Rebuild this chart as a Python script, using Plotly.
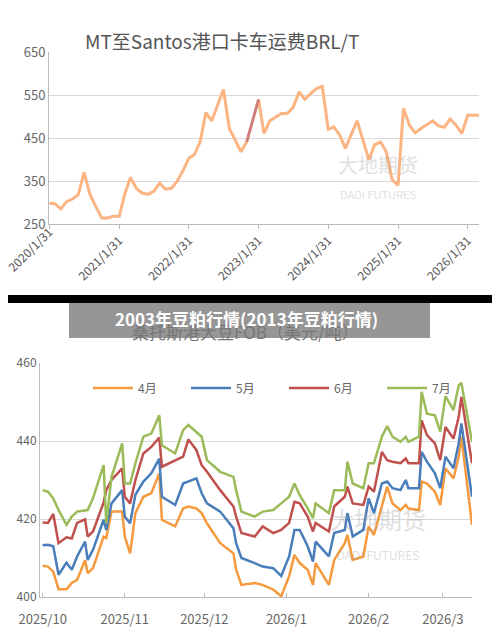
import pandas as pd
import plotly.graph_objects as go

# top chart: monthly truck freight MT -> Santos (BRL/T)
freight_months = pd.date_range("2020-01-31", periods=75, freq="ME")
freight = [298, 297, 285, 302, 308, 318, 370, 318, 291, 264, 264, 268,
           268, 318, 358, 333, 322, 319, 326, 345, 331, 333, 349, 374,
           403, 411, 441, 509, 490, 526, 563, 472, 445, 418, 441, None,
           540, 461, 490, 499, 507, 507, 521, 557, 540, 553, 565, 570,
           470, 476, 457, 426, 457, 490, 445, 399, 434, 441, 418, 353,
           340, 519, 480, 462, 472, 480, 490, 478, 475, 494, 480, 461,
           503, 503, 503]
gap_dates = ["2022-11-30", "2023-01-31"]
gap_vals = [441, 540]
top_ticks = [f"{y}-01-31" for y in range(2020, 2027)]
top_ticktext = [f"{y}/1/31" for y in range(2020, 2027)]

# bottom chart: Santos soybean FOB by delivery month (USD/t)
fob_days = [0, 2, 4, 6, 9, 11, 13, 16, 17, 19, 23, 24, 26, 30,
            31, 33, 35, 38, 41, 44, 45, 50, 53, 55, 58, 60, 62,
            67, 72, 73, 75, 80, 83, 87, 90, 93, 95, 97, 100, 102, 103,
            108, 110, 114, 115, 117, 121, 123, 125, 128, 130, 132, 135,
            137, 138, 142, 143, 145, 148, 150, 152, 155, 157, 158, 162]
fob_dates = [pd.Timestamp("2025-10-01") + pd.Timedelta(days=d) for d in fob_days]
apr = [408.0, 407.8, 406.5, 402.0, 402.0, 403.6, 404.4, 409.4, 406.1, 407.4, 415.5, 415.1, 421.9, 421.9,
       415.5, 411.2, 421.5, 425.7, 426.6, 431.7, 419.8, 418.1, 422.7, 423.2, 422.7, 421.5, 418.9,
       413.8, 411.2, 407.0, 403.1, 403.6, 403.1, 401.9, 400.2, 405.3, 410.8, 408.7, 407.0, 403.1, 408.7,
       403.1, 409.5, 413.8, 415.9, 409.5, 410.4, 418.1, 415.9, 423.2, 428.3, 424.0, 422.3,
       423.6, 422.7, 422.3, 429.6, 429.1, 427.0, 423.6, 433.0, 430.4, 436.0, 441.1, 418.5]
may = [413.3, 413.4, 413.0, 405.7, 408.8, 407.0, 410.4, 414.2, 409.5, 412.1, 419.8, 417.2, 424.0, 427.4,
       420.6, 418.9, 426.2, 429.6, 431.7, 435.5, 425.7, 423.6, 429.1, 429.6, 430.4, 426.6, 424.0,
       421.9, 417.6, 413.8, 410.0, 408.7, 407.8, 407.4, 405.4, 410.4, 417.2, 417.2, 413.0, 409.1, 414.2,
       410.4, 416.4, 417.2, 421.5, 415.5, 417.2, 425.3, 421.5, 429.1, 429.6, 427.9, 427.4,
       430.0, 427.9, 427.9, 437.2, 434.7, 431.7, 427.9, 436.0, 433.0, 439.4, 444.5, 425.7]
jun = [419.1, 419.0, 421.3, 413.8, 415.3, 415.0, 419.0, 419.9, 415.5, 416.8, 424.2, 427.4, 430.0, 433.0,
       425.7, 424.0, 430.0, 436.8, 438.5, 440.9, 433.4, 435.1, 436.0, 440.4, 437.7, 433.8, 432.1,
       427.4, 423.2, 420.6, 416.4, 415.5, 418.1, 416.4, 417.2, 419.0, 424.4, 424.0, 420.6, 416.8, 419.0,
       416.8, 423.2, 425.7, 428.3, 424.0, 423.6, 428.3, 427.0, 437.2, 435.1, 434.7, 434.3,
       435.5, 434.3, 434.3, 445.3, 441.5, 439.4, 435.1, 443.6, 440.6, 446.2, 451.3, 434.3]
jul = [427.4, 427.0, 425.3, 422.3, 418.5, 420.6, 421.9, 422.3, 422.3, 425.3, 433.8, 418.9, 430.8, 439.4,
       429.1, 429.1, 434.3, 441.1, 441.9, 446.6, 438.9, 436.8, 442.8, 444.1, 442.4, 441.1, 435.1,
       432.1, 430.8, 427.4, 421.9, 420.6, 421.9, 422.3, 424.0, 425.7, 429.1, 426.1, 422.7, 420.2, 424.0,
       421.5, 427.4, 427.4, 434.7, 429.1, 427.9, 434.3, 434.3, 441.1, 443.8, 441.1, 439.8,
       441.1, 439.8, 441.1, 452.6, 447.0, 446.6, 442.4, 451.5, 447.9, 454.3, 454.9, 439.8]
series = [("4月", apr, "#F59A3E"), ("5月", may, "#4A7EBB"),
          ("6月", jun, "#C0504D"), ("7月", jul, "#9BBB59")]
bottom_ticks = ["2025-10-01", "2025-11-01", "2025-12-01", "2026-01-01", "2026-02-01", "2026-03-01"]
bottom_ticktext = ["2025/10", "2025/11", "2025/12", "2026/1", "2026/2", "2026/3"]

fig = go.Figure()
fig.add_trace(go.Scatter(x=freight_months, y=freight, mode="lines", showlegend=False,
                         line=dict(color="#FBB482", width=3), connectgaps=False))
fig.add_trace(go.Scatter(x=gap_dates, y=gap_vals, mode="lines", showlegend=False,
                         line=dict(color="#CF7F7A", width=3)))
for name, vals, col in series:
    fig.add_trace(go.Scatter(x=fob_dates, y=vals, mode="lines", name=name,
                             line=dict(color=col, width=2.5), xaxis="x2", yaxis="y2"))


# place things in reference pixels
def px_x(p):
    return (p - 8) / 500


def px_y(p):
    return 1 - (p - 8) / 637


grey = "#666"
fig.update_layout(
    width=500, height=637, paper_bgcolor="white", plot_bgcolor="white",
    margin=dict(l=0, r=0, t=0, b=0, autoexpand=False),
    font=dict(family="Noto Sans CJK SC, Noto Sans, sans-serif", color=grey),
    xaxis=dict(domain=[px_x(49), px_x(479)], range=["2020-01-29", "2026-03-31"], automargin=False,
               tickvals=top_ticks, ticktext=[""] + top_ticktext[1:], tickangle=-45,
               ticks="outside", ticklen=4, tickcolor="#bbb", showgrid=False,
               showline=True, linecolor="#bbb", tickfont=dict(size=12, color="#555")),
    yaxis=dict(domain=[px_y(224), px_y(52)], range=[250, 650], tick0=250, dtick=100,
               automargin=False, gridcolor="#d9d9d9", showline=True, linecolor="#bbb",
               zeroline=False, tickfont=dict(size=13, color=grey)),
    xaxis2=dict(domain=[px_x(40), px_x(472)], anchor="y2", range=["2025-09-30", "2026-03-12"],
                automargin=False, tickvals=bottom_ticks, ticktext=bottom_ticktext, ticks="inside",
                ticklen=4, tickcolor="#bbb", showgrid=False, showline=True,
                linecolor="#bbb", ticklabelstandoff=10, tickfont=dict(size=13, color=grey)),
    yaxis2=dict(domain=[px_y(597), px_y(363)], anchor="x2", range=[400, 460], dtick=20,
                automargin=False, gridcolor="#d9d9d9", showline=True, linecolor="#bbb",
                zeroline=False, tickfont=dict(size=12, color=grey)),
    legend=dict(orientation="h", x=px_x(88), xanchor="left", y=px_y(388), yanchor="middle",
                entrywidth=43, font=dict(size=12, color=grey), bgcolor="rgba(0,0,0,0)",
                itemwidth=40),
    shapes=[
        dict(type="rect", xref="paper", yref="paper", x0=-0.02, x1=1, y0=px_y(303),
             y1=px_y(295), fillcolor="black", line_width=0, layer="above"),
        dict(type="rect", xref="paper", yref="paper", x0=px_x(69), x1=px_x(430),
             y0=px_y(338), y1=px_y(303), fillcolor="rgba(110,110,110,0.72)",
             line_width=0, layer="above"),
    ],
    annotations=[
        dict(text=top_ticktext[0], x=top_ticks[0], xref="x", y=px_y(229), yref="paper",
             textangle=-45, showarrow=False, xanchor="center", yanchor="middle",
             xshift=-19, yshift=-20, font=dict(size=12, color="#555")),
        dict(text="MT至Santos港口卡车运费BRL/T", x=px_x(222), y=px_y(25), xref="paper",
             yref="paper", showarrow=False, font=dict(size=19, color="#555")),
        dict(text="桑托斯港大豆FOB（美元/吨）", x=px_x(245), y=px_y(331), xref="paper",
             yref="paper", showarrow=False, font=dict(size=17, color="#777")),
        dict(text="<b>2003年豆粕行情(2013年豆粕行情)</b>", x=px_x(246), y=px_y(318),
             xref="paper", yref="paper", showarrow=False, font=dict(size=17, color="white")),
        dict(text="大地期货<br><span style='font-size:11px'>DADI FUTURES</span>", x=px_x(420),
             y=px_y(148), xref="paper", yref="paper", showarrow=False, opacity=0.3,
             font=dict(size=20, color="#999")),
        dict(text="大地期货<br><span style='font-size:12px'>DADI FUTURES</span>", x=px_x(428),
             y=px_y(565), xref="paper", yref="paper", showarrow=False, opacity=0.3,
             font=dict(size=24, color="#999")),
    ],
)
fig.write_html("out.html")
